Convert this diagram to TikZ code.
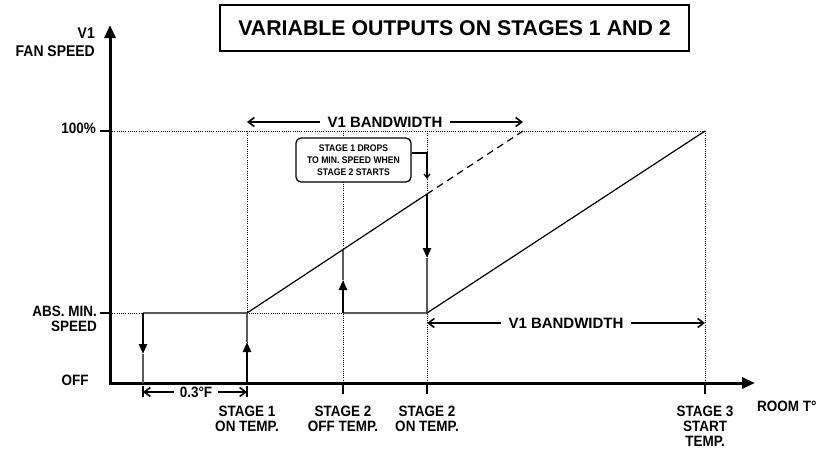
\documentclass[tikz,border=0pt]{standalone}
\usepackage{fontspec}
\setmainfont{Liberation Sans}
\newfontfamily\condfont[FakeStretch=0.9]{Liberation Sans}
\usetikzlibrary{arrows.meta}
\begin{document}
\begin{tikzpicture}[x=1pt,y=-1pt,
  axis/.style={line width=3pt,line join=miter,{Triangle[length=13pt,width=11pt]}-{Triangle[length=13pt,width=11pt]}},
  tickline/.style={line width=2pt},
  dotline/.style={line width=0.8pt,dash pattern=on 0.8pt off 1.4pt},
  greyline/.style={line width=1.5pt,draw=black!65},
  thickarr/.style={line width=2.4pt,-{Triangle[length=10pt,width=8pt]}},
  slope/.style={line width=1.2pt},
  bwarr/.style={line width=1.6pt,-{Straight Barb[length=6pt,width=9pt]}},
  lbl/.style={font=\condfont\bfseries\fontsize{15}{15}\selectfont,inner sep=0pt,align=center},
  ylbl/.style={font=\condfont\bfseries\fontsize{15.5}{17.5}\selectfont,inner sep=0pt,align=right},
  bwtext/.style={font=\bfseries\fontsize{15}{18}\selectfont,inner xsep=7pt,inner ysep=0pt},
  callout/.style={draw,line width=1.3pt,rounded corners=5pt,fill=white,minimum width=115pt,minimum height=44pt,inner sep=0pt,align=center,font=\condfont\bfseries\fontsize{9.6}{11.8}\selectfont},
  titlebox/.style={draw,line width=1.6pt,minimum width=469pt,minimum height=46pt,inner sep=0pt,font=\bfseries\fontsize{21.3}{24}\selectfont}
]
\useasboundingbox (0,0) rectangle (824,448);

% key coordinates
\coordinate (O) at (110,383);
\coordinate (Ytip) at (110,25);
\coordinate (Xtip) at (755,383);
\coordinate (P100) at (110,131);
\coordinate (Pmin) at (110,313);
\coordinate (a) at (143,313);
\coordinate (a0) at (143,383);
\coordinate (am) at (143,354);
\coordinate (b) at (247,313);
\coordinate (b0) at (247,383);
\coordinate (bm) at (247,342);
\coordinate (bt) at (247,131);
\coordinate (c) at (343,313);
\coordinate (cT) at (343,249.7);
\coordinate (cm) at (343,280);
\coordinate (ct) at (343,131);
\coordinate (c0) at (343,383);
\coordinate (d) at (427,313);
\coordinate (dT) at (427,194);
\coordinate (dm) at (427,258);
\coordinate (dt) at (427,131);
\coordinate (d0) at (427,383);
\coordinate (e) at (523,131);
\coordinate (f) at (705,131);
\coordinate (f0) at (705,383);

% dotted guides
\draw[dotline] (P100) -- (f);
\draw[dotline] (Pmin) -- (c);
\draw[dotline] (bt) -- (b0);
\draw[dotline] (ct) -- (c0);
\draw[dotline] (dt) -- (d0);
\draw[dotline] (f) -- (f0);

% title
\node[titlebox] (title) at (454.5,28) {VARIABLE OUTPUTS ON STAGES 1 AND 2};

% axes
\draw[axis] (Ytip) -- (O) -- (Xtip);

% ticks
\draw[tickline] (100,131) -- (P100);
\draw[tickline] (100,313) -- (Pmin);
\draw[tickline] (c0) -- ++(0,11);
\draw[tickline] (d0) -- ++(0,11);
\draw[tickline] (f0) -- ++(0,11);

% stage 1 loop
\draw[greyline] (a) -- (b);
\draw[greyline] (am) -- (a0);
\draw[greyline] (bm) -- (b);
\draw[thickarr] (a) -- (am);
\draw[thickarr] (b0) -- (bm);

% stage 2 loop
\draw[greyline] (c) -- (d);
\draw[greyline] (cm) -- (cT);
\draw[greyline] (dm) -- (d);
\draw[thickarr] (c) -- (cm);
\draw[thickarr] (dT) -- (dm);

% slopes
\draw[slope] (b) -- (dT);
\draw[slope,dash pattern=on 7pt off 5pt] (dT) -- (e);
\draw[slope] (d) -- (f);

% callout
\node[callout] (co) at (353.5,160) {STAGE 1 DROPS\\TO MIN. SPEED WHEN\\STAGE 2 STARTS};
\coordinate (cotip) at (427,179);
\draw[line width=1.3pt,-{Straight Barb[length=4pt,width=6pt]}] ([yshift=7pt]co.east) -| (cotip);

% bandwidth arrows
\node[bwtext] (bw1) at (385,122) {V1 BANDWIDTH};
\coordinate (bw1L) at (247,122);
\coordinate (bw1R) at (523,122);
\draw[bwarr] (bw1.west) -- (bw1L);
\draw[bwarr] (bw1.east) -- (bw1R);

\node[bwtext] (bw2) at (566,323) {V1 BANDWIDTH};
\coordinate (bw2L) at (427,323);
\coordinate (bw2R) at (705,323);
\draw[bwarr] (bw2.west) -- (bw2L);
\draw[bwarr] (bw2.east) -- (bw2R);

% 0.3F dimension
\node[lbl,inner xsep=6pt] (dim) at (196,392) {0.3°F};
\coordinate (dimL) at (143,392);
\coordinate (dimR) at (247,392);
\draw[line width=1.5pt] (143,386) -- (143,397);
\draw[line width=1.5pt] (247,386) -- (247,397);
\draw[bwarr] (dim.west) -- (dimL);
\draw[bwarr] (dim.east) -- (dimR);

% axis labels
\node[ylbl,anchor=east] (ylab) at (95,42) {V1\\FAN SPEED};
\node[lbl,anchor=east] (l100) at (96,128) {100\%};
\node[lbl,anchor=east,align=right] (lmin) at (97,319) {ABS. MIN.\\SPEED};
\node[lbl] (loff) at (75,380) {OFF};

\node[lbl,anchor=north] (s1) at (247,405.5) {STAGE 1\\ON TEMP.};
\node[lbl,anchor=north] (s2off) at (343,405.5) {STAGE 2\\OFF TEMP.};
\node[lbl,anchor=north] (s2on) at (427,405.5) {STAGE 2\\ON TEMP.};
\node[lbl,anchor=north] (s3) at (705,405.5) {STAGE 3\\START\\TEMP.};
\node[lbl,anchor=west] (room) at (757,406) {ROOM T°};
\end{tikzpicture}
\end{document}
